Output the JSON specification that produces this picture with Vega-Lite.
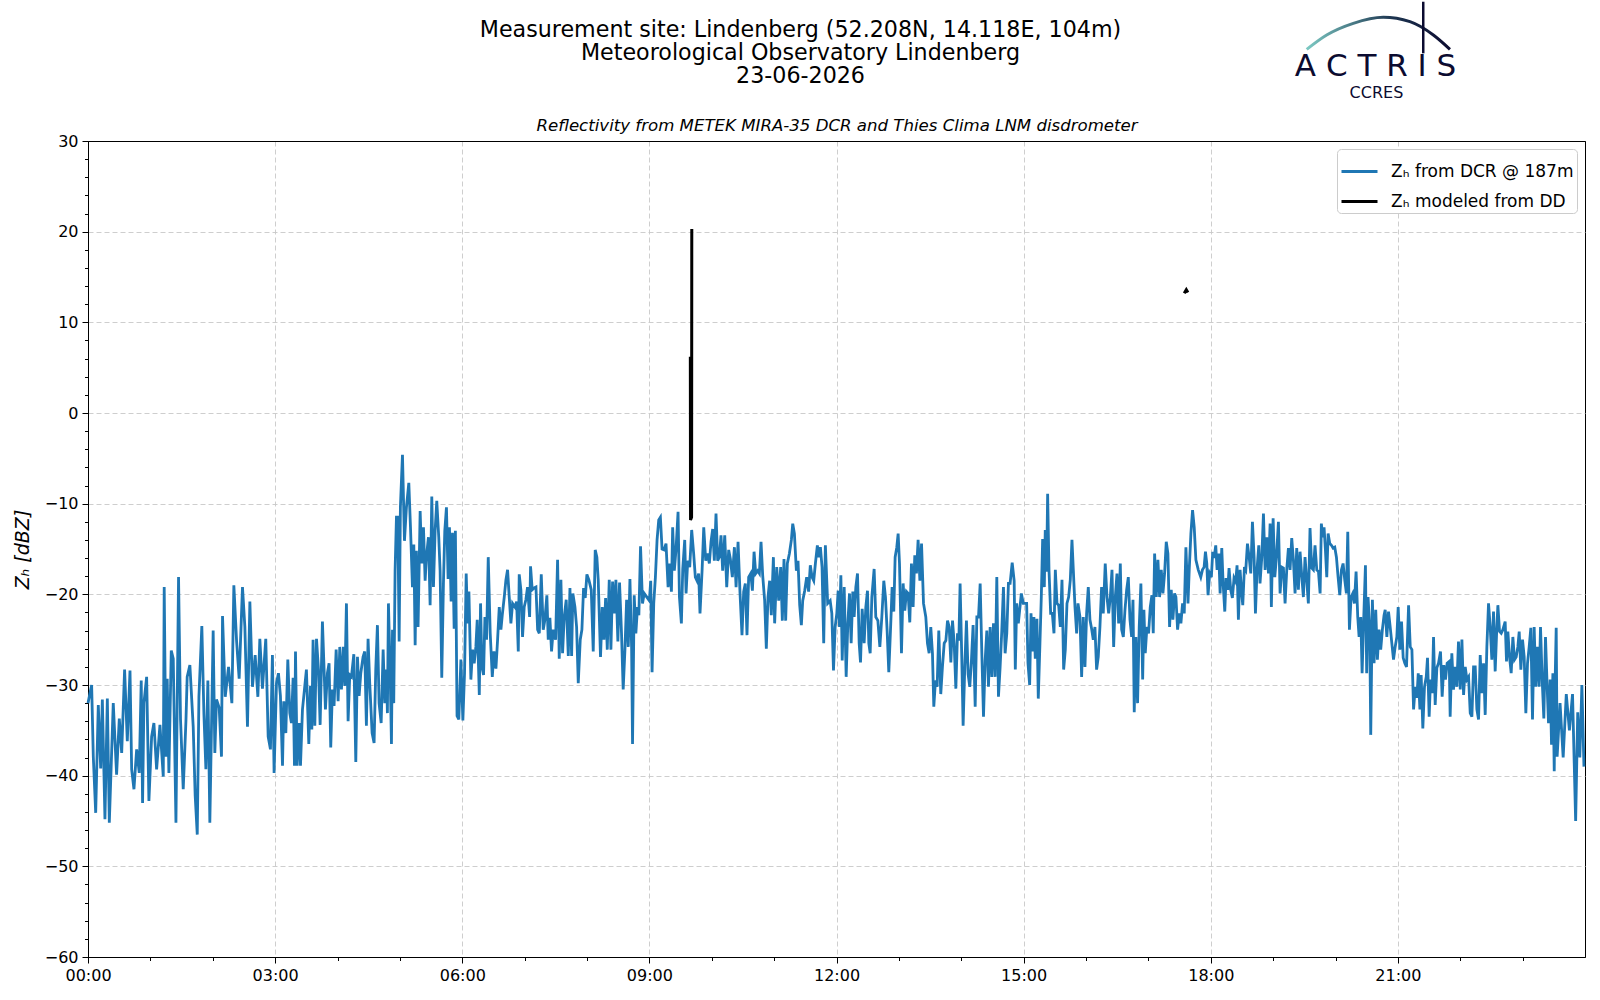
{
  "$schema": "https://vega.github.io/schema/vega-lite/v6.json",
  "width": 1497,
  "height": 816,
  "autosize": {"type": "none"},
  "padding": {"left": 88, "top": 141, "right": 15, "bottom": 43},
  "background": "white",
  "title": {
    "text": ["Measurement site: Lindenberg (52.208N, 14.118E, 104m)", "Meteorological Observatory Lindenberg", "23-06-2026"],
    "anchor": "middle",
    "dx": -36,
    "offset": -90,
    "fontSize": 22.2,
    "lineHeight": 23,
    "font": "DejaVu Sans",
    "fontWeight": "normal",
    "color": "black"
  },
  "config": {
    "font": "DejaVu Sans",
    "view": {"stroke": "black", "strokeWidth": 1},
    "axis": {
      "domainColor": "black",
      "tickColor": "black",
      "labelColor": "black",
      "titleColor": "black",
      "labelFont": "DejaVu Sans",
      "titleFont": "DejaVu Sans",
      "labelFontSize": 16,
      "gridColor": "#c8c8c8",
      "gridDash": [5, 3],
      "gridWidth": 0.9
    }
  },
  "datasets": {
    "dcr": [
      {"m":0,"z":-32},{"m":3.5,"z":-30},{"m":5.1,"z":-37.9},{"m":7.4,"z":-44.1},{"m":9.9,"z":-32.2},{"m":12.2,"z":-39.2},{"m":13.8,"z":-31.6},{"m":16.3,"z":-44.8},{"m":18.6,"z":-31.5},{"m":20.5,"z":-45.2},
      {"m":24.3,"z":-32},{"m":27.5,"z":-39.9},{"m":30.1,"z":-33.7},{"m":32.4,"z":-37.5},{"m":35.2,"z":-28.3},{"m":37.8,"z":-36.2},{"m":40.4,"z":-28.4},{"m":42,"z":-39.3},{"m":44.2,"z":-41.5},{"m":46.8,"z":-37.1},
      {"m":49.3,"z":-39.7},{"m":51.2,"z":-29.5},{"m":52.5,"z":-43},{"m":53.8,"z":-32},{"m":56.4,"z":-29.1},{"m":58.6,"z":-42.8},{"m":61.2,"z":-35.7},{"m":63.4,"z":-34.2},{"m":66,"z":-39.3},{"m":69.2,"z":-34.4},
      {"m":72.4,"z":-40.1},{"m":73.3,"z":-19.2},{"m":74.9,"z":-37.9},{"m":76.2,"z":-29.3},{"m":77.8,"z":-39.7},{"m":80.1,"z":-26.2},{"m":82,"z":-27.1},{"m":84.6,"z":-45.2},{"m":87.1,"z":-18.1},{"m":89,"z":-33.8},
      {"m":91.6,"z":-41.5},{"m":94.2,"z":-34},{"m":95.4,"z":-29.1},{"m":98,"z":-27.8},{"m":101.2,"z":-34.6},{"m":103.1,"z":-42.2},{"m":105.1,"z":-46.5},{"m":106.7,"z":-31.3},{"m":109.5,"z":-23.5},{"m":111.5,"z":-33.2},
      {"m":113.4,"z":-39.3},{"m":115.3,"z":-29.5},{"m":117.2,"z":-45.2},{"m":120.4,"z":-24},{"m":122,"z":-37.5},{"m":123.6,"z":-31.6},{"m":126.2,"z":-32.5},{"m":128.4,"z":-37.9},{"m":129.4,"z":-22.4},{"m":132,"z":-31.3},
      {"m":135.2,"z":-28},{"m":138.4,"z":-32},{"m":140.3,"z":-19},{"m":142.9,"z":-25.1},{"m":145.4,"z":-29.3},{"m":148.6,"z":-19.2},{"m":150.9,"z":-23.6},{"m":153.4,"z":-34.6},{"m":155.7,"z":-20.8},{"m":158.2,"z":-30.2},
      {"m":160.8,"z":-26.7},{"m":163.4,"z":-31.3},{"m":165.3,"z":-24.9},{"m":167.8,"z":-30.4},{"m":171,"z":-24.9},{"m":173.3,"z":-35.7},{"m":175.5,"z":-37.1},{"m":177.4,"z":-26.7},{"m":179,"z":-39.7},
      {"m":181.3,"z":-29.8},{"m":183.2,"z":-28.7},{"m":185.1,"z":-31.2},{"m":187.1,"z":-38.9},{"m":188.3,"z":-31.8},{"m":190.3,"z":-35.3},{"m":192.2,"z":-27.2},{"m":194.1,"z":-33.1},{"m":195.7,"z":-34.2},{"m":197.3,"z":-29.2},
      {"m":198.6,"z":-38.9},{"m":199.6,"z":-26.3},{"m":201.2,"z":-38.9},{"m":203.1,"z":-34.2},{"m":204.4,"z":-38.9},{"m":206.3,"z":-32.7},{"m":208.2,"z":-30.5},{"m":210.1,"z":-28.3},{"m":212.4,"z":-36.5},{"m":214,"z":-30.1},
      {"m":215.3,"z":-34.9},{"m":216.5,"z":-25},{"m":218.2,"z":-34.5},{"m":219.8,"z":-24.9},{"m":221.7,"z":-28.3},{"m":223.3,"z":-34.4},{"m":225.5,"z":-23},{"m":227.1,"z":-28.3},{"m":228.4,"z":-32.7},{"m":230.3,"z":-28.7},
      {"m":231.9,"z":-27.6},{"m":233.5,"z":-36.9},{"m":235.1,"z":-30.5},{"m":236.7,"z":-32.3},{"m":238.7,"z":-26.1},{"m":240.6,"z":-31.8},{"m":242.2,"z":-25.8},{"m":243.8,"z":-30.5},{"m":245.7,"z":-25.8},{"m":247,"z":-30.1},
      {"m":248.6,"z":-21},{"m":250.2,"z":-34},{"m":251.8,"z":-28.9},{"m":253.4,"z":-29.1},{"m":255.7,"z":-26.6},{"m":257.6,"z":-38.5},{"m":259.2,"z":-26.9},{"m":260.8,"z":-31.2},{"m":262.4,"z":-28.7},{"m":264.6,"z":-26.9},
      {"m":266.2,"z":-26.3},{"m":267.8,"z":-34.5},{"m":269.4,"z":-24.9},{"m":271,"z":-29.8},{"m":273.3,"z":-35.3},{"m":275.2,"z":-36.4},{"m":276.8,"z":-28.3},{"m":278.4,"z":-23.4},{"m":280,"z":-32},{"m":282,"z":-34.2},
      {"m":283.9,"z":-26.1},{"m":285.5,"z":-32},{"m":287.1,"z":-28.3},{"m":288,"z":-33.1},{"m":289,"z":-21},{"m":290.6,"z":-28.3},{"m":291.9,"z":-36.5},{"m":292.9,"z":-23.9},{"m":294.1,"z":-32},{"m":295.4,"z":-17.4},
      {"m":296.7,"z":-11.5},{"m":298,"z":-11.5},{"m":299.3,"z":-25.2},{"m":300.5,"z":-10.4},{"m":302.5,"z":-4.6},{"m":304.4,"z":-14.1},{"m":306.3,"z":-10.4},{"m":308.6,"z":-7.7},{"m":310.2,"z":-12.6},{"m":312.1,"z":-19.2},
      {"m":313.4,"z":-14.5},{"m":314.7,"z":-25.6},{"m":315.9,"z":-15.2},{"m":317.5,"z":-23.6},{"m":319.5,"z":-10.8},{"m":321.1,"z":-16.6},{"m":322.7,"z":-12.6},{"m":324.3,"z":-18.5},{"m":325.5,"z":-15.9},{"m":327.5,"z":-13.7},
      {"m":329.1,"z":-21.2},{"m":330.7,"z":-9.2},{"m":332.3,"z":-19.2},{"m":333.9,"z":-13},{"m":335.5,"z":-9.7},{"m":337.4,"z":-13.7},{"m":338.7,"z":-17.4},{"m":340.3,"z":-29.2},{"m":341.9,"z":-18.8},{"m":343.2,"z":-13},
      {"m":344.8,"z":-10.4},{"m":346.4,"z":-18.3},{"m":347.7,"z":-12.6},{"m":349.3,"z":-20.8},{"m":350.6,"z":-13.2},{"m":352.2,"z":-23.8},{"m":353.4,"z":-13},{"m":355,"z":-33.4},{"m":356.7,"z":-33.8},
      {"m":358.7,"z":-27.2},{"m":360.6,"z":-33.9},{"m":362.2,"z":-28.7},{"m":363.8,"z":-17.7},{"m":365.1,"z":-23.2},{"m":366.4,"z":-19.7},{"m":368.3,"z":-29.4},{"m":369.9,"z":-26.1},{"m":371.5,"z":-27.6},{"m":373.1,"z":-25.8},
      {"m":374.4,"z":-22.8},{"m":376.4,"z":-31.1},{"m":377.6,"z":-21},{"m":378.9,"z":-28},{"m":380.5,"z":-28.9},{"m":381.8,"z":-22.5},{"m":383.4,"z":-25},{"m":385,"z":-15.9},{"m":386.9,"z":-24.3},{"m":388.9,"z":-29.1},
      {"m":390.5,"z":-26.3},{"m":392.4,"z":-28.2},{"m":394,"z":-25},{"m":395.6,"z":-21.4},{"m":397.2,"z":-23.9},{"m":398.5,"z":-22.3},{"m":400.4,"z":-20.3},{"m":402,"z":-18.4},{"m":403.6,"z":-17.3},{"m":405.2,"z":-20.3},
      {"m":406.8,"z":-23.2},{"m":408.4,"z":-21},{"m":410.7,"z":-21.4},{"m":412.3,"z":-20.8},{"m":413.9,"z":-26.3},{"m":414.8,"z":-17.8},{"m":416.4,"z":-19.5},{"m":418,"z":-24.7},{"m":419.6,"z":-21.4},{"m":421.2,"z":-20.6},
      {"m":422.8,"z":-19.2},{"m":424.8,"z":-22.5},{"m":425.7,"z":-16.9},{"m":427.3,"z":-19.5},{"m":429.2,"z":-19.3},{"m":430.9,"z":-19.2},{"m":432.5,"z":-23.9},{"m":434.1,"z":-24.3},{"m":436,"z":-17.8},{"m":437.9,"z":-23.9},
      {"m":439.5,"z":-22.8},{"m":441.4,"z":-20.1},{"m":442.7,"z":-25},{"m":444.3,"z":-22.6},{"m":445.9,"z":-26.3},{"m":447.5,"z":-23.9},{"m":449.8,"z":-25},{"m":451.7,"z":-16.2},{"m":453.3,"z":-27.1},{"m":454.9,"z":-18.4},
      {"m":456.5,"z":-26.5},{"m":458.1,"z":-22.5},{"m":460,"z":-20.6},{"m":462,"z":-26.8},{"m":463.6,"z":-19.3},{"m":465.2,"z":-26.8},{"m":466.4,"z":-19.9},{"m":468.4,"z":-21.4},{"m":470,"z":-23.6},{"m":471.6,"z":-29.8},
      {"m":473.5,"z":-25},{"m":475.1,"z":-23.9},{"m":476.7,"z":-19.3},{"m":478.3,"z":-20.4},{"m":479.9,"z":-17.8},{"m":481.8,"z":-18.4},{"m":484.1,"z":-19.5},{"m":486,"z":-26.3},{"m":487.9,"z":-15.1},{"m":489.5,"z":-15.9},
      {"m":490.8,"z":-18.4},{"m":493,"z":-26.9},{"m":494.7,"z":-21.4},{"m":496.3,"z":-25},{"m":497.9,"z":-20.4},{"m":499.5,"z":-26.1},{"m":501.4,"z":-18.4},{"m":503,"z":-26.1},{"m":504.6,"z":-18.6},{"m":506.2,"z":-22.1},
      {"m":507.8,"z":-18.4},{"m":509.7,"z":-25.2},{"m":511.3,"z":-18.7},{"m":513.2,"z":-24.3},{"m":514.8,"z":-30.5},{"m":516.5,"z":-26.1},{"m":518.1,"z":-20.6},{"m":519.7,"z":-25.8},{"m":521.3,"z":-18.3},{"m":522.9,"z":-25.8},
      {"m":523.8,"z":-36.5},{"m":525.4,"z":-20.1},{"m":527,"z":-24.3},{"m":528.6,"z":-21.4},{"m":529.9,"z":-22.3},{"m":531.5,"z":-14.7},{"m":533.4,"z":-21},{"m":535,"z":-19.9},
      {"m":540,"z":-20.7},{"m":541.3,"z":-18.5},{"m":542.6,"z":-28.6},{"m":544.2,"z":-21},{"m":545.8,"z":-18.1},{"m":547.4,"z":-14},{"m":549,"z":-11.8},{"m":550.6,"z":-11.5},{"m":552.2,"z":-15},{"m":554.1,"z":-15.1},
      {"m":556,"z":-14.4},{"m":558,"z":-19.2},{"m":559.6,"z":-16.6},{"m":561.2,"z":-19.7},{"m":562.4,"z":-12.6},{"m":564,"z":-17.4},{"m":565.6,"z":-15.1},{"m":567.6,"z":-10.9},{"m":568.9,"z":-20.3},{"m":570.8,"z":-23.2},
      {"m":572.1,"z":-17.2},{"m":574,"z":-14},{"m":575.3,"z":-19.9},{"m":576.9,"z":-16.3},{"m":578.8,"z":-17},{"m":580.7,"z":-12.9},{"m":582.6,"z":-15.5},{"m":584.2,"z":-18.1},{"m":585.8,"z":-18.5},{"m":587.4,"z":-17.7},
      {"m":588.7,"z":-22.1},{"m":590.7,"z":-17.4},{"m":592.3,"z":-12.6},{"m":594.2,"z":-16.3},{"m":595.8,"z":-15.5},{"m":597.7,"z":-16.6},{"m":599.3,"z":-14.2},{"m":600.9,"z":-12.8},{"m":602.5,"z":-16.3},{"m":604.1,"z":-11.1},
      {"m":605.7,"z":-16.3},{"m":607.3,"z":-15.9},{"m":608.9,"z":-13.5},{"m":610.5,"z":-17.4},{"m":612.5,"z":-13.5},{"m":614.4,"z":-19.2},{"m":616.3,"z":-15.1},{"m":617.9,"z":-16.1},{"m":619.8,"z":-18.1},{"m":621.8,"z":-14.8},
      {"m":623.4,"z":-19.2},{"m":625.3,"z":-14.2},{"m":627.2,"z":-19.9},{"m":629.1,"z":-24.5},{"m":630.7,"z":-19.7},{"m":632.3,"z":-18.8},{"m":633.9,"z":-24.5},{"m":635.5,"z":-18.1},{"m":637.5,"z":-17.7},{"m":639.1,"z":-19.6},
      {"m":640.7,"z":-15.3},{"m":642.3,"z":-17.7},{"m":644.2,"z":-17.4},{"m":645.8,"z":-17.7},{"m":647.4,"z":-14.2},{"m":649,"z":-17.9},{"m":650.9,"z":-20.7},{"m":652.5,"z":-26},{"m":654.1,"z":-20.3},{"m":655.7,"z":-18.5},
      {"m":657.3,"z":-22.3},{"m":659.3,"z":-15.9},{"m":660.5,"z":-23.2},{"m":662.5,"z":-17},{"m":664.4,"z":-20.7},{"m":666.3,"z":-17},{"m":667.9,"z":-22.9},{"m":669.5,"z":-16.1},{"m":671.1,"z":-22.9},{"m":672.7,"z":-16.6},
      {"m":674.7,"z":-15.5},{"m":676.6,"z":-14},{"m":677.9,"z":-12.2},{"m":679.5,"z":-13.3},{"m":681.4,"z":-17.4},{"m":683,"z":-16.3},{"m":684.6,"z":-21.2},{"m":686.2,"z":-23.4},{"m":687.5,"z":-20.7},{"m":689.4,"z":-19.6},
      {"m":691.3,"z":-18.1},{"m":693.2,"z":-19.7},{"m":694.8,"z":-16.8},{"m":696.5,"z":-18.1},{"m":698.1,"z":-18.5},{"m":699.7,"z":-16.6},{"m":701.6,"z":-14.6},{"m":702.9,"z":-15.9},{"m":704.5,"z":-14.8},{"m":706.1,"z":-17},
      {"m":707.7,"z":-25.4},{"m":709.3,"z":-14.6},{"m":711.5,"z":-21},
      {"m":713.9,"z":-20.7},{"m":715.5,"z":-22.1},{"m":717.1,"z":-28.4},{"m":718.7,"z":-23.6},{"m":720.3,"z":-22.1},{"m":721.6,"z":-19.6},{"m":722.9,"z":-23.6},{"m":724.2,"z":-17.9},{"m":725.5,"z":-27.3},{"m":727.4,"z":-19.2},
      {"m":729.3,"z":-29.1},{"m":730.9,"z":-23.2},{"m":732.5,"z":-19.9},{"m":734.1,"z":-25.4},{"m":735.7,"z":-19.7},{"m":737,"z":-22.5},{"m":738.6,"z":-19.2},{"m":740.2,"z":-17.7},{"m":741.8,"z":-25.4},{"m":743.1,"z":-27.5},
      {"m":744.7,"z":-21.6},{"m":746.6,"z":-25.4},{"m":748.2,"z":-21.4},{"m":749.8,"z":-19.6},{"m":751.1,"z":-25.4},{"m":752.4,"z":-26.5},{"m":754,"z":-20.3},{"m":756.2,"z":-17.2},{"m":757.8,"z":-22.5},{"m":759.8,"z":-22.9},
      {"m":761.7,"z":-25.8},{"m":763.6,"z":-22.5},{"m":765.5,"z":-18.5},{"m":767.1,"z":-20.3},{"m":768.7,"z":-24},{"m":770.3,"z":-28.6},{"m":772.3,"z":-22.9},{"m":773.5,"z":-19.2},{"m":775.1,"z":-21.9},{"m":776.4,"z":-15.9},
      {"m":778,"z":-14.8},{"m":779.3,"z":-13.3},{"m":780.6,"z":-16.6},{"m":782.5,"z":-26.5},{"m":784.1,"z":-18.8},{"m":785.7,"z":-21.8},{"m":787.3,"z":-19.7},{"m":788.9,"z":-19.9},{"m":790.5,"z":-23.1},{"m":792.1,"z":-16.6},
      {"m":793.7,"z":-21.4},{"m":795.3,"z":-15.7},{"m":796.9,"z":-17.7},{"m":798.5,"z":-14},{"m":800.2,"z":-18.5},{"m":801.8,"z":-14.4},{"m":803.7,"z":-21},{"m":805.9,"z":-22.5},{"m":807.5,"z":-25.4},{"m":809.1,"z":-26.5},
      {"m":810.7,"z":-23.6},{"m":812.3,"z":-26.5},{"m":813.6,"z":-32.4},{"m":815.2,"z":-29.5},{"m":816.8,"z":-30.2},{"m":818.4,"z":-24},{"m":820.3,"z":-31},{"m":821.9,"z":-28},{"m":823.6,"z":-25.4},{"m":825.2,"z":-25.1},
      {"m":826.8,"z":-22.9},{"m":828.4,"z":-23.6},{"m":830,"z":-27.5},{"m":831.6,"z":-22.9},{"m":833.2,"z":-25.4},{"m":834.8,"z":-30.4},{"m":836.4,"z":-24.3},{"m":837.7,"z":-25.1},{"m":838.9,"z":-18.8},{"m":840.5,"z":-26.9},
      {"m":841.8,"z":-34.5},{"m":843.4,"z":-28},{"m":845,"z":-22.9},{"m":846.6,"z":-28.8},{"m":848.2,"z":-30.2},{"m":849.8,"z":-27.3},{"m":851.4,"z":-23.4},{"m":853.4,"z":-32.4},{"m":855,"z":-22.5},{"m":856.6,"z":-22.5},
      {"m":858.2,"z":-18.8},{"m":859.8,"z":-26.5},{"m":861.4,"z":-33.5},{"m":863,"z":-27.3},{"m":864.6,"z":-24},{"m":866.2,"z":-30.2},{"m":867.8,"z":-23.6},{"m":869.4,"z":-29.1},{"m":871,"z":-23.2},{"m":872.6,"z":-29.1},
      {"m":874.2,"z":-18.1},{"m":875.8,"z":-31.3},{"m":877.4,"z":-28},{"m":879,"z":-24},{"m":880.6,"z":-19.2},{"m":882.2,"z":-26.5},{"m":883.8,"z":-24.3},{"m":885.4,"z":-18.8},{"m":887,"z":-18.8},{"m":889,"z":-16.5},
      {"m":890.9,"z":-18.5},{"m":892,"z":-28.3},{"m":893.3,"z":-21},{"m":894.9,"z":-23.2},{"m":896.5,"z":-21.4},{"m":897.8,"z":-19.9},{"m":899.7,"z":-21},{"m":901.6,"z":-21},{"m":902.9,"z":-21},{"m":904.2,"z":-27.6},
      {"m":905.8,"z":-30},{"m":907.1,"z":-22.1},{"m":908.7,"z":-26.3},{"m":909.9,"z":-22.5},{"m":911.2,"z":-27.1},{"m":912.8,"z":-22.7},{"m":914.1,"z":-31.5},{"m":915.7,"z":-25.4},{"m":917,"z":-20.3},{"m":918.3,"z":-13.9},
      {"m":919.9,"z":-19.2},{"m":920.8,"z":-12.9},{"m":922.1,"z":-17.5},{"m":923.1,"z":-8.9},{"m":924.4,"z":-17.3},{"m":926,"z":-22.1},{"m":927.6,"z":-22.1},{"m":929.2,"z":-24.3},{"m":930.5,"z":-17.3},{"m":932.1,"z":-21},
      {"m":933.7,"z":-21.2},{"m":935.3,"z":-23.6},{"m":936.9,"z":-18.4},{"m":938.5,"z":-28.3},{"m":940.1,"z":-26.1},{"m":941.7,"z":-21},{"m":943.3,"z":-20.3},{"m":944.9,"z":-18.4},{"m":946.5,"z":-14},{"m":947.8,"z":-17.3},
      {"m":949.4,"z":-21.4},{"m":951,"z":-24.3},{"m":952.3,"z":-21},{"m":954.2,"z":-22.5},{"m":955.8,"z":-29.1},{"m":957.4,"z":-22.5},{"m":959,"z":-28},{"m":960.6,"z":-22.1},{"m":962.2,"z":-19.2},{"m":963.8,"z":-22.8},
      {"m":965.4,"z":-23.8},{"m":967,"z":-25},{"m":968.6,"z":-23.6},{"m":970.2,"z":-28.3},{"m":971.8,"z":-26.9},{"m":973.4,"z":-23.6},{"m":975,"z":-19.2},{"m":976.6,"z":-22.1},{"m":978.5,"z":-16.6},{"m":980.2,"z":-20.3},
      {"m":981.8,"z":-22.1},{"m":983.4,"z":-20.3},{"m":985,"z":-17.3},{"m":986.6,"z":-25.8},{"m":988.2,"z":-20.3},{"m":989.8,"z":-17.7},{"m":991.4,"z":-23.2},{"m":993,"z":-16.6},{"m":994.3,"z":-23.9},{"m":995.9,"z":-24.7},
      {"m":997.5,"z":-21.7},{"m":999.1,"z":-19.5},{"m":1000.7,"z":-18.1},{"m":1002.3,"z":-22.8},{"m":1003.9,"z":-24.7},{"m":1005.2,"z":-20.6},{"m":1006.4,"z":-33},{"m":1008,"z":-24.7},{"m":1009.6,"z":-32},{"m":1011.2,"z":-23.6},
      {"m":1012.8,"z":-18.8},{"m":1014.5,"z":-29.4},{"m":1015.7,"z":-21.7},{"m":1017,"z":-26.5},{"m":1018.6,"z":-23.6},{"m":1020.2,"z":-24.3},{"m":1021.8,"z":-21.4},{"m":1023.4,"z":-20.1},{"m":1024.7,"z":-24.3},{"m":1026,"z":-15.5},
      {"m":1027.6,"z":-20.3},{"m":1029.2,"z":-16.2},{"m":1030.8,"z":-20.3},{"m":1032.4,"z":-17.3},{"m":1034,"z":-19.9},{"m":1035.6,"z":-17.7},{"m":1037.2,"z":-14.2},{"m":1038.8,"z":-15.5},{"m":1040.4,"z":-23.6},{"m":1042,"z":-19.5},
      {"m":1043.6,"z":-22.8},{"m":1045.2,"z":-19.9},{"m":1046.5,"z":-20.3},{"m":1048.1,"z":-23.9},{"m":1049.7,"z":-22.1},{"m":1051.3,"z":-23.2},{"m":1052.9,"z":-21},{"m":1054.5,"z":-22.1},{"m":1056.1,"z":-14.8},{"m":1058.1,"z":-21},
      {"m":1059.3,"z":-17.3},{"m":1060.9,"z":-13.3},{"m":1062.5,"z":-10.7},{"m":1064.1,"z":-12.6},{"m":1065.7,"z":-16.2},{"m":1068,"z":-17.3},
      {"m":1070.4,"z":-18.1},{"m":1072,"z":-17.3},{"m":1073.6,"z":-17},{"m":1074.9,"z":-15.3},{"m":1076.2,"z":-16.6},{"m":1077.4,"z":-20.1},{"m":1079,"z":-17.7},{"m":1080.6,"z":-18.1},{"m":1081.9,"z":-15.3},{"m":1083.2,"z":-16},
      {"m":1084.8,"z":-14.6},{"m":1086.1,"z":-17.3},{"m":1087.7,"z":-15.5},{"m":1089,"z":-19.9},{"m":1090.6,"z":-14.9},{"m":1091.9,"z":-18.8},{"m":1093.5,"z":-21.9},{"m":1094.7,"z":-18.2},{"m":1096.4,"z":-19.5},{"m":1097.6,"z":-17.1},
      {"m":1099.2,"z":-19.5},{"m":1100.8,"z":-20.4},{"m":1102.4,"z":-18.2},{"m":1104,"z":-18.6},{"m":1105.3,"z":-16.8},{"m":1106.6,"z":-22.8},{"m":1108.2,"z":-17.3},{"m":1109.5,"z":-19.5},{"m":1110.8,"z":-21.2},{"m":1112.4,"z":-17},
      {"m":1113.7,"z":-17.3},{"m":1115.3,"z":-14.4},{"m":1117.2,"z":-16.2},{"m":1118.5,"z":-17.7},{"m":1120.1,"z":-12},{"m":1121.7,"z":-15.9},{"m":1123,"z":-22.1},{"m":1124.6,"z":-17.1},{"m":1126.2,"z":-14.6},{"m":1127.4,"z":-18.8},
      {"m":1129.1,"z":-15.9},{"m":1130.7,"z":-11.1},{"m":1132.3,"z":-17.3},{"m":1133.9,"z":-13.7},{"m":1135.5,"z":-17.7},{"m":1137.1,"z":-12.2},{"m":1138.3,"z":-21.4},{"m":1140,"z":-11.6},{"m":1141.6,"z":-18.1},{"m":1143.2,"z":-15.9},
      {"m":1145.1,"z":-12},{"m":1146.7,"z":-19.9},{"m":1148.3,"z":-17},{"m":1149.9,"z":-17.1},{"m":1151.5,"z":-21},{"m":1153.1,"z":-17.3},{"m":1154.7,"z":-14.9},{"m":1156.3,"z":-17.3},{"m":1157.9,"z":-13.8},{"m":1159.5,"z":-16.2},
      {"m":1161.1,"z":-19.9},{"m":1162.7,"z":-14.9},{"m":1164.3,"z":-19.5},{"m":1165.9,"z":-15.3},{"m":1167.5,"z":-17.9},{"m":1169.1,"z":-20.3},{"m":1170.7,"z":-15.9},{"m":1172.3,"z":-18.4},{"m":1173.9,"z":-21},{"m":1175.5,"z":-12.7},
      {"m":1177.1,"z":-17.1},{"m":1178.7,"z":-17.3},{"m":1180.3,"z":-14.6},{"m":1182,"z":-17.3},{"m":1183.6,"z":-17.5},{"m":1185.2,"z":-19.9},{"m":1186.4,"z":-12.2},{"m":1187.7,"z":-13.7},{"m":1189,"z":-12.6},{"m":1190.3,"z":-15.1},
      {"m":1191.6,"z":-18.1},{"m":1192.9,"z":-13.3},{"m":1194.5,"z":-14.4},{"m":1196.1,"z":-14.6},{"m":1197.7,"z":-14.9},{"m":1199.3,"z":-14.8},{"m":1200.9,"z":-15.9},{"m":1202.5,"z":-18.1},{"m":1204.1,"z":-20.1},{"m":1205.7,"z":-17.3},
      {"m":1207.3,"z":-16.6},{"m":1208.9,"z":-18.4},{"m":1210.5,"z":-19.9},{"m":1211.8,"z":-13.1},{"m":1213.4,"z":-23.9},{"m":1215,"z":-20.3},{"m":1216.6,"z":-19.9},{"m":1218.2,"z":-21},{"m":1219.8,"z":-17.5},{"m":1221.4,"z":-22.5},
      {"m":1222.7,"z":-24.7},{"m":1224.3,"z":-22.5},{"m":1225.6,"z":-28.7},{"m":1227.2,"z":-22.5},{"m":1228.8,"z":-16.8},{"m":1230,"z":-28.7},{"m":1231.3,"z":-20.3},{"m":1232.9,"z":-23.6},{"m":1233.9,"z":-35.5},{"m":1235.5,"z":-20.6},
      {"m":1237.1,"z":-27.6},{"m":1238.7,"z":-21.7},{"m":1240.3,"z":-27.2},{"m":1241.9,"z":-23.9},{"m":1243.5,"z":-26.1},{"m":1245.1,"z":-23.9},{"m":1246.7,"z":-22.3},
      {"m":1247.8,"z":-21.7},{"m":1249.4,"z":-24.7},{"m":1251,"z":-21.9},{"m":1252.6,"z":-23.6},{"m":1254.2,"z":-25.4},{"m":1255.8,"z":-27.2},{"m":1257.4,"z":-25.8},{"m":1259,"z":-24.7},{"m":1260.3,"z":-21.4},{"m":1261.9,"z":-26.1},
      {"m":1263.5,"z":-23},{"m":1265.1,"z":-27},{"m":1266.7,"z":-27.6},{"m":1268.3,"z":-28},{"m":1270.3,"z":-21.2},{"m":1271.9,"z":-25.8},{"m":1273.5,"z":-26.1},{"m":1275.1,"z":-32.7},{"m":1276.7,"z":-30.2},{"m":1278.3,"z":-31.4},
      {"m":1279.6,"z":-28.7},{"m":1281.2,"z":-32.7},{"m":1282.4,"z":-28.9},{"m":1284,"z":-34.8},{"m":1285.6,"z":-30.2},{"m":1287.3,"z":-29.1},{"m":1288.5,"z":-27},{"m":1290.1,"z":-33.5},{"m":1291.4,"z":-29.4},{"m":1293,"z":-30.9},
      {"m":1294.3,"z":-24.7},{"m":1295.9,"z":-32.2},{"m":1297.5,"z":-28.1},{"m":1299.1,"z":-27.6},{"m":1301,"z":-26.3},{"m":1302.6,"z":-31.3},{"m":1304.2,"z":-27.8},{"m":1305.8,"z":-29.4},{"m":1307.4,"z":-27.6},{"m":1309.4,"z":-27.4},
      {"m":1310.3,"z":-33.5},{"m":1311.9,"z":-26.5},{"m":1313.5,"z":-30.5},{"m":1315.1,"z":-28},{"m":1316.7,"z":-30.2},{"m":1318.3,"z":-25.2},{"m":1320,"z":-30.5},{"m":1321.6,"z":-25},{"m":1323.2,"z":-31.1},{"m":1324.8,"z":-28},
      {"m":1326.4,"z":-29.4},{"m":1328,"z":-29.1},{"m":1329.6,"z":-33.1},{"m":1331.2,"z":-33.5},{"m":1332.8,"z":-28},{"m":1334.4,"z":-28},{"m":1336,"z":-32.7},{"m":1337.6,"z":-33.8},{"m":1339.2,"z":-26.7},{"m":1340.8,"z":-30.9},
      {"m":1342.4,"z":-27.6},{"m":1344,"z":-33.3},{"m":1345.6,"z":-25.8},{"m":1347.2,"z":-21},{"m":1348.8,"z":-23.6},{"m":1350.4,"z":-27.2},{"m":1352,"z":-21.9},{"m":1353.6,"z":-28.5},{"m":1355.2,"z":-23.6},{"m":1356.2,"z":-21.2},
      {"m":1357.8,"z":-24.1},{"m":1359.4,"z":-24.3},{"m":1361,"z":-23.9},{"m":1363.2,"z":-23},{"m":1364.5,"z":-27.4},{"m":1365.8,"z":-24.1},{"m":1367.4,"z":-26.9},{"m":1369,"z":-28.7},{"m":1370.6,"z":-24.7},{"m":1372.2,"z":-27.2},
      {"m":1373.8,"z":-26.9},{"m":1375.4,"z":-25.8},{"m":1376.7,"z":-24.1},{"m":1378.3,"z":-28.3},{"m":1379.9,"z":-25},{"m":1381.5,"z":-26.9},{"m":1383.1,"z":-33.1},{"m":1384.7,"z":-27.6},{"m":1386.3,"z":-25.8},{"m":1387.9,"z":-23.7},
      {"m":1389.5,"z":-33.8},{"m":1391.1,"z":-23.6},{"m":1392.7,"z":-30.2},{"m":1394.3,"z":-25.8},{"m":1395.9,"z":-30.2},{"m":1397.2,"z":-23.6},{"m":1398.8,"z":-29.4},{"m":1400.4,"z":-33.7},{"m":1402,"z":-24.7},{"m":1403.6,"z":-30.2},
      {"m":1404.9,"z":-34.2},{"m":1406.5,"z":-29.4},{"m":1407.8,"z":-36.6},{"m":1409.1,"z":-28.7},{"m":1410.4,"z":-39.5},{"m":1411.3,"z":-29.4},{"m":1412.3,"z":-23.7},{"m":1413.2,"z":-37.9},{"m":1416,"z":-32},{"m":1419,"z":-38},
      {"m":1422,"z":-31},{"m":1425,"z":-35},{"m":1428,"z":-31},{"m":1431,"z":-45},{"m":1433,"z":-33},{"m":1435,"z":-38},{"m":1437,"z":-30},{"m":1439,"z":-39}
    ],
    "dd": [
      {"m":579.4,"z":6.2,"seg":1},{"m":579.6,"z":-11.8,"seg":1},{"m":580.6,"z":-11.5,"seg":1},{"m":580.8,"z":20.3,"seg":1},
      {"m":1054.5,"z":13.2,"seg":2},{"m":1056.5,"z":13.6,"seg":2},{"m":1058,"z":13.3,"seg":2}
    ],
    "arc": [
      {"m":1172.3,"z":40.11},{"m":1191.5,"z":41.69},{"m":1217.1,"z":42.98},{"m":1246,"z":43.64},{"m":1271.6,"z":43.16},{"m":1294.1,"z":41.69},{"m":1310.1,"z":40.11}
    ],
    "mast": [
      {"m":1284.4,"z":45.36},{"m":1284.4,"z":39.67}
    ],
    "brand": [{"m":1238.5,"z":38.13,"t":"A C T R I S"}],
    "group": [{"m":1239.4,"z":35.3,"t":"CCRES"}]
  },
  "layer": [
    {
      "data": {"name": "dcr"},
      "mark": {"type": "line", "strokeWidth": 2.8, "interpolate": "linear"},
      "encoding": {
        "x": {
          "field": "m",
          "type": "quantitative",
          "scale": {"domain": [0, 1440], "nice": false, "zero": false},
          "axis": {
            "orient": "bottom",
            "title": null,
            "values": [0,60,120,180,240,300,360,420,480,540,600,660,720,780,840,900,960,1020,1080,1140,1200,1260,1320,1380],
            "labelExpr": "datum.value % 180 === 0 ? ((datum.value < 600 ? '0' : '') + (datum.value / 60) + ':00') : ''",
            "labelFlush": false,
            "labelOverlap": false,
            "labelBound": false,
            "labelPadding": 4,
            "tickSize": {"condition": {"test": "datum.value % 180 === 0", "value": 6}, "value": 3.5},
            "gridOpacity": {"condition": {"test": "datum.value % 180 === 0 && datum.value > 0", "value": 1}, "value": 0}
          }
        },
        "y": {
          "field": "z",
          "type": "quantitative",
          "scale": {"domain": [-60, 30], "nice": false, "zero": false},
          "axis": {
            "title": "Zₕ [dBZ]",
            "titleFontStyle": "italic",
            "titleFontWeight": "normal",
            "titleFontSize": 19,
            "titlePadding": 12,
            "values": [-60,-58,-56,-54,-52,-50,-48,-46,-44,-42,-40,-38,-36,-34,-32,-30,-28,-26,-24,-22,-20,-18,-16,-14,-12,-10,-8,-6,-4,-2,0,2,4,6,8,10,12,14,16,18,20,22,24,26,28,30],
            "labelExpr": "datum.value % 10 === 0 ? datum.label : ''",
            "labelOverlap": false,
            "labelBound": false,
            "labelFlush": false,
            "labelPadding": 4,
            "tickSize": {"condition": {"test": "datum.value % 10 === 0", "value": 6}, "value": 3.5},
            "gridOpacity": {"condition": {"test": "datum.value % 10 === 0 && datum.value > -60 && datum.value < 30", "value": 1}, "value": 0}
          }
        },
        "color": {
          "datum": "Zₕ from DCR @ 187m",
          "scale": {"domain": ["Zₕ from DCR @ 187m", "Zₕ modeled from DD"], "range": ["#1f77b4", "black"]},
          "legend": {
            "orient": "top-right",
            "offset": 8,
            "title": null,
            "symbolType": "stroke",
            "symbolSize": 1296,
            "symbolStrokeWidth": 2.8,
            "labelFontSize": 17,
            "labelFont": "DejaVu Sans",
            "labelColor": "black",
            "labelLimit": 400,
            "labelOffset": 12,
            "rowPadding": 2,
            "strokeColor": "#cccccc",
            "fillColor": "white",
            "padding": 3,
            "cornerRadius": 4
          }
        }
      }
    },
    {
      "data": {"name": "dd"},
      "mark": {"type": "line", "strokeWidth": 3},
      "encoding": {
        "x": {
          "field": "m",
          "type": "quantitative",
          "axis": {
            "orient": "top",
            "title": "Reflectivity from METEK MIRA-35 DCR and Thies Clima LNM disdrometer",
            "titleFontStyle": "italic",
            "titleFontWeight": "normal",
            "titleFontSize": 16.6,
            "titlePadding": 8,
            "labels": false,
            "ticks": false,
            "domain": true,
            "domainColor": "black",
            "grid": false
          }
        },
        "y": {"field": "z", "type": "quantitative", "axis": null},
        "detail": {"field": "seg"},
        "color": {"datum": "Zₕ modeled from DD"}
      }
    },
    {
      "data": {"name": "arc"},
      "mark": {
        "type": "line",
        "interpolate": "monotone",
        "strokeWidth": 3,
        "color": {"gradient": "linear", "x1": 0, "x2": 1, "y1": 0, "y2": 0, "stops": [{"offset": 0, "color": "#7cc9c3"}, {"offset": 0.6, "color": "#1d3550"}, {"offset": 1, "color": "#0b0b30"}]}
      },
      "encoding": {
        "x": {"field": "m", "type": "quantitative", "axis": null},
        "y": {"field": "z", "type": "quantitative", "axis": null}
      }
    },
    {
      "data": {"name": "mast"},
      "mark": {"type": "line", "strokeWidth": 2.5, "color": "#0b0b30"},
      "encoding": {
        "x": {"field": "m", "type": "quantitative", "axis": null},
        "y": {"field": "z", "type": "quantitative", "axis": null}
      }
    },
    {
      "data": {"name": "brand"},
      "mark": {"type": "text", "fontSize": 31, "font": "DejaVu Sans", "fontWeight": "normal", "color": "#0b0b30", "baseline": "middle", "align": "center"},
      "encoding": {
        "x": {"field": "m", "type": "quantitative", "axis": null},
        "y": {"field": "z", "type": "quantitative", "axis": null},
        "text": {"field": "t"}
      }
    },
    {
      "data": {"name": "group"},
      "mark": {"type": "text", "fontSize": 16, "font": "DejaVu Sans", "color": "#0b0b30", "baseline": "middle", "align": "center"},
      "encoding": {
        "x": {"field": "m", "type": "quantitative", "axis": null},
        "y": {"field": "z", "type": "quantitative", "axis": null},
        "text": {"field": "t"}
      }
    }
  ],
  "resolve": {"axis": {"x": "independent", "y": "independent"}}
}
